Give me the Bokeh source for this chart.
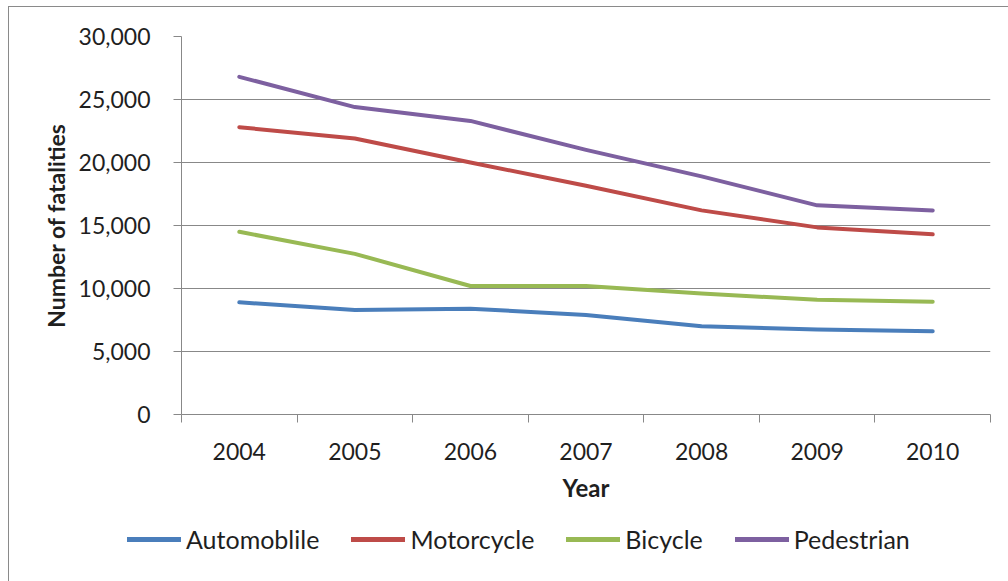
from bokeh.plotting import figure
from bokeh.layouts import column
from bokeh.models import (FixedTicker, NumeralTickFormatter, Legend, LegendItem,
                          Range1d, ColumnDataSource)
from bokeh.embed import file_html
from bokeh.resources import INLINE

years = ["2004", "2005", "2006", "2007", "2008", "2009", "2010"]
automobile = [8900, 8300, 8400, 7900, 7000, 6750, 6600]
motorcycle = [22800, 21900, 20000, 18150, 16200, 14850, 14300]
bicycle = [14500, 12750, 10200, 10200, 9600, 9100, 8950]
pedestrian = [26800, 24400, 23300, 21000, 18900, 16600, 16200]

series = [
    ("Automoblile", automobile, "#4A7EBB"),
    ("Motorcycle", motorcycle, "#BE4B48"),
    ("Bicycle", bicycle, "#98B954"),
    ("Pedestrian", pedestrian, "#7D60A0"),
]

FONT = "Lato"
GRID = "#888888"
TXT = "#1f1f1f"

xpos = [i + 0.5 for i in range(len(years))]

p = figure(width=999, height=515, output_backend="svg", toolbar_location=None,
           x_range=Range1d(0, len(years)), y_range=Range1d(0, 30000))
p.min_border_left = 172
p.min_border_right = 18
p.min_border_top = 29
p.min_border_bottom = 108
p.outline_line_color = None

# grid
p.xgrid.grid_line_color = None
p.ygrid.grid_line_color = GRID
p.ygrid.grid_line_width = 1
p.ygrid.ticker = FixedTicker(ticks=list(range(0, 30001, 5000)))

# x axis
xa = p.xaxis[0]
xa.ticker = FixedTicker(ticks=xpos, minor_ticks=list(range(0, len(years) + 1)))
xa.major_label_overrides = {x: y for x, y in zip(xpos, years)}
xa.major_tick_line_color = None
xa.major_tick_out = 0
xa.major_tick_in = 0
xa.minor_tick_line_color = GRID
xa.minor_tick_out = 8
xa.minor_tick_in = 0
xa.axis_line_color = GRID
xa.major_label_text_font = FONT
xa.major_label_text_font_size = "23px"
xa.major_label_text_color = TXT
xa.major_label_standoff = 20
xa.axis_label = "Year"
xa.axis_label_text_font = FONT
xa.axis_label_text_font_style = "bold"
xa.axis_label_text_font_size = "24px"
xa.axis_label_text_color = TXT
xa.axis_label_standoff = 10

# y axis
ya = p.yaxis[0]
ya.ticker = FixedTicker(ticks=list(range(0, 30001, 5000)))
ya.formatter = NumeralTickFormatter(format="0,0")
ya.major_tick_line_color = GRID
ya.major_tick_out = 8
ya.major_tick_in = 0
ya.minor_tick_line_color = None
ya.axis_line_color = GRID
ya.major_label_text_font = FONT
ya.major_label_text_font_size = "23px"
ya.major_label_text_color = TXT
ya.major_label_standoff = 23
ya.axis_label = "Number of fatalities"
ya.axis_label_text_font = FONT
ya.axis_label_text_font_style = "bold"
ya.axis_label_text_font_size = "23px"
ya.axis_label_text_color = TXT
ya.axis_label_standoff = 6

for name, vals, color in series:
    src = ColumnDataSource(dict(x=xpos, y=vals))
    p.line("x", "y", source=src, line_color=color, line_width=4,
           line_cap="round", line_join="round")

# legend strip (separate figure so the legend is not clipped by the frame)
p2 = figure(width=999, height=59, output_backend="svg", toolbar_location=None,
            x_range=Range1d(0, len(years)), y_range=Range1d(-2, -1))
p2.min_border_left = 0
p2.min_border_right = 0
p2.min_border_top = 0
p2.min_border_bottom = 0
p2.frame_align = False
p2.axis.visible = False
p2.grid.visible = False
p2.outline_line_color = None

items = []
for name, vals, color in series:
    src = ColumnDataSource(dict(x=xpos, y=vals))
    r = p2.line("x", "y", source=src, line_color=color, line_width=5,
                line_cap="round")
    items.append(LegendItem(label=name, renderers=[r]))

legend = Legend(items=items, orientation="horizontal", location=(118, 27),
                glyph_width=54, glyph_height=24, label_standoff=5, spacing=32,
                padding=0, margin=0, border_line_color=None,
                background_fill_alpha=0, label_text_font=FONT,
                label_text_font_size="25px", label_text_color=TXT,
                label_height=24)
p2.add_layout(legend, "center")

layout = column(p, p2, spacing=0,
                styles={"margin-left": "8px", "margin-top": "6px",
                        "border-left": "1px solid #8a8a8a",
                        "border-top": "1px solid #8a8a8a"})

open("out.html", "w").write(file_html(layout, INLINE))
